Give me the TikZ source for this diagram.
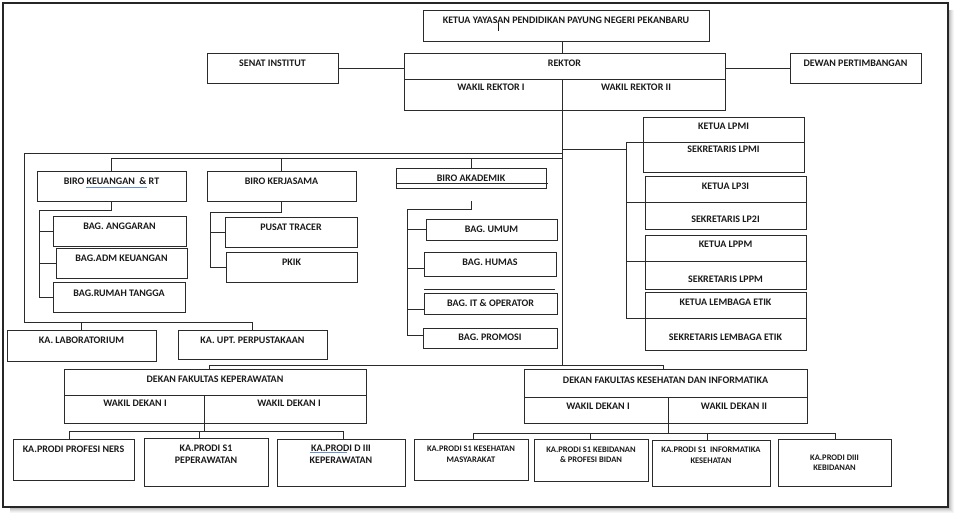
\documentclass[tikz,border=0pt]{standalone}
\usepackage{fontspec}
\setmainfont{Carlito}
\usetikzlibrary{fit,calc}
\definecolor{ln}{HTML}{2B2B2B}
\definecolor{txc}{HTML}{1A1A1A}
\definecolor{spell}{HTML}{6A8FD8}
\tikzset{
  bx/.style={draw=ln, line width=0.9pt, inner sep=0pt, fit={#1}},
  tx/.style={inner sep=0pt, font=\fontsize{10}{12}\selectfont\bfseries, text=txc, align=center},
  ts/.style={inner sep=0pt, font=\fontsize{8.5}{10.5}\selectfont\bfseries, text=txc, align=center},
  cn/.style={draw=ln, line width=0.9pt},
}
% box: [text style]{name}{x1}{y1}{x2}{y2}{text y}{text}
\newcommand\bx[8][tx]{%
  \node[bx={(#3,#4) (#5,#6)}] (#2) {};
  \node[#1] (#2-t) at ({(#3+#5)/2},#7) {#8};}
\begin{document}
\begin{tikzpicture}[x=1pt,y=-1pt]
\useasboundingbox (0,0) rectangle (957,516);
% frame with shadow
\foreach \i/\c in {6/4,5/8,4/13,3/19,2/26,1/33}
  \fill[black!\c] (10,10) rectangle ({948+\i},{507+\i});
\fill[white, draw=black!85, line width=1.2pt] (3,3) rectangle (948,507);

% top
\bx{ketua}{423}{10}{709}{41}{20}{KETUA YAYASAN PENDIDIKAN PAYUNG NEGERI PEKANBARU}
\draw[txc, line width=0.6pt] (498,23) -- (498,31);
\bx{senat}{207}{53}{338}{83}{63}{SENAT INSTITUT}
\bx{rektor}{404}{53}{725}{110}{63}{REKTOR}
\draw[cn] (404,79) -- (725,79);
\node[tx] (wr1) at (491,87) {WAKIL REKTOR I};
\node[tx] (wr2) at (636,87) {WAKIL REKTOR II};
\bx{dewan}{790}{53}{921}{83}{63}{DEWAN PERTIMBANGAN}

\coordinate (tk) at (562,79);
\coordinate (bb) at (562,365);
\draw[cn] (ketua.south -| tk) -- (rektor.north -| tk);
\draw[cn] (senat.east) -- (senat.east -| rektor.west);
\draw[cn] (rektor.east |- dewan.west) -- (dewan.west);
\draw[cn] (tk) -- (bb);

% right lembaga boxes
\bx{lpmi}{643}{117}{804}{172}{126}{KETUA LPMI}
\node[tx] (lpmi-s) at (723.5,149) {SEKRETARIS LPMI};
\bx{lp3i}{645}{176}{806}{229}{186}{KETUA LP3I}
\node[tx] (lp3i-s) at (725.5,219) {SEKRETARIS LP2I};
\bx{lppm}{645}{235}{806}{289}{244}{KETUA LPPM}
\node[tx] (lppm-s) at (725.5,279) {SEKRETARIS LPPM};
\bx{etik}{645}{292}{806}{350}{302}{KETUA LEMBAGA ETIK}
\node[tx] (etik-s) at (725.5,337) {SEKRETARIS LEMBAGA ETIK};
\coordinate (lpmi-d) at (643,142);
\coordinate (lp3i-d) at (645,202);
\coordinate (lppm-d) at (645,261);
\coordinate (etik-d) at (645,318);
\foreach \n in {lpmi,lp3i,lppm,etik}
  \draw[cn] (\n-d) -- (\n-d -| \n.east);
\coordinate (lx) at (626,149);
\coordinate (j1) at (562,149);
\draw[cn] (j1) -- (lx) -- (lx |- lpmi-d) -- (lpmi-d);
\draw[cn] (lx |- lpmi-d) -- (lx |- etik-d) -- (etik-d);
\draw[cn] (lx |- lp3i-d) -- (lp3i-d);
\draw[cn] (lx |- lppm-d) -- (lppm-d);

% left frame
\coordinate (fL) at (24,153);
\coordinate (fB) at (24,322);
\bx{lab}{7}{330}{156}{361}{340}{KA. LABORATORIUM}
\bx{upt}{178}{330}{327}{359}{340}{KA. UPT. PERPUSTAKAAN}
\draw[cn] (tk |- fL) -- (fL) -- (fB) -| (upt.north);
\draw[cn] (lab.north |- fB) -- (lab.north);

% biro
\coordinate (b1) at (113,158);
\bx{keu}{37}{171}{186}{201}{181}{BIRO KEUANGAN~~\& RT}
\draw[spell, line width=0.7pt] (86,187) -- (147,187);
\bx{kerja}{207}{171}{356}{201}{181}{BIRO KERJASAMA}
\bx{akad}{396}{168}{546}{188}{178}{BIRO AKADEMIK}
\draw[cn] (396,183.5) -- (548,183.5);
\draw[cn] (tk |- b1) -| (keu.north);
\draw[cn] (kerja.north |- b1) -- (kerja.north);
\draw[cn] (akad.north |- b1) -- (akad.north);

% keuangan children
\bx{ang}{53}{216}{186}{246}{226}{BAG. ANGGARAN}
\bx{adm}{56}{248}{187}{278}{258}{BAG.ADM KEUANGAN}
\bx{rt}{53}{282}{185}{312}{293}{BAG.RUMAH TANGGA}
\coordinate (kx) at (39,210);
\draw[cn] (keu.south) |- (kx) |- (rt.west);
\draw[cn] (ang.west -| kx) -- (ang.west);
\draw[cn] (adm.west -| kx) -- (adm.west);

% kerjasama children
\bx{tracer}{225}{217}{357}{247}{227}{PUSAT TRACER}
\bx{pkik}{226}{252}{357}{282}{262}{PKIK}
\coordinate (rx) at (210,212);
\draw[cn] (kerja.south) |- (rx) |- (pkik.west);
\draw[cn] (tracer.west -| rx) -- (tracer.west);

% akademik children
\bx{umum}{426}{219}{557}{240}{229}{BAG. UMUM}
\bx{humas}{424}{252}{556}{276}{262}{BAG. HUMAS}
\draw[cn] (424,289) -- (555,289);
\bx{itop}{424}{293}{557}{314}{303}{BAG. IT \& OPERATOR}
\bx{promosi}{423}{328}{557}{348}{337}{BAG. PROMOSI}
\coordinate (at) at (471,201);
\coordinate (ax) at (407,209);
\draw[cn] (at) |- (ax) -- (ax |- 0,335) -- (promosi.west |- 0,335);
\draw[cn] (umum.west -| ax) -- (umum.west);
\draw[cn] (ax |- 0,268) -- (humas.west |- 0,268);
\draw[cn] (ax |- 0,309) -- (itop.west |- 0,309);

% faculty keperawatan
\bx{dkep}{64}{369}{366}{423}{379}{DEKAN FAKULTAS KEPERAWATAN}
\draw[cn] (64,395) -- (366,395);
\node[tx] (wdk1) at (135,403) {WAKIL DEKAN I};
\node[tx] (wdk2) at (289,403) {WAKIL DEKAN I};
\coordinate (kv) at (204,395);
\coordinate (kb) at (204,431);
\draw[cn] (kv) -- (kb);
\bx{ners}{13}{439}{134}{480}{449}{KA.PRODI PROFESI NERS}
\bx{s1kep}{144}{438}{268}{486}{454}{KA.PRODI S1\\PEPERAWATAN}
\bx{d3kep}{277}{439}{405}{486}{454.5}{KA.PRODI D III\\KEPERAWATAN}
\draw[spell, line width=0.7pt] (310,452.5) -- (347,452.5);
\coordinate (kb1) at (69,431);
\coordinate (kb2) at (199,431);
\coordinate (kb3) at (343,431);
\draw[cn] (kb1 |- ners.north) -- (kb1) -- (kb3) -- (kb3 |- d3kep.north);
\draw[cn] (kb2) -- (kb2 |- s1kep.north);

% faculty kesehatan
\bx{dkes}{524}{369}{807}{423}{380}{DEKAN FAKULTAS KESEHATAN DAN INFORMATIKA}
\draw[cn] (524,397) -- (807,397);
\node[tx] (wds1) at (598,406) {WAKIL DEKAN I};
\node[tx] (wds2) at (734,406) {WAKIL DEKAN II};
\coordinate (sv) at (668,397);
\coordinate (sb) at (668,433);
\draw[cn] (sv) -- (sb);
\bx[ts]{skm}{414}{439}{528}{480}{454}{KA.PRODI S1 KESEHATAN\\MASYARAKAT}
\bx[ts]{keb}{534}{439}{648}{481}{454.5}{KA.PRODI S1 KEBIDANAN\\\& PROFESI BIDAN}
\bx[ts]{inf}{652}{440}{770}{486}{455}{KA.PRODI S1~~INFORMATIKA\\KESEHATAN}
\bx[ts]{diii}{778}{439}{891}{486}{462.5}{KA.PRODI DIII\\KEBIDANAN}
\coordinate (sb1) at (473,433);
\coordinate (sb2) at (590,433);
\coordinate (sb3) at (707,433);
\coordinate (sb4) at (835,433);
\draw[cn] (sb1 |- skm.north) -- (sb1) -- (sb4) -- (sb4 |- diii.north);
\draw[cn] (sb2) -- (sb2 |- keb.north);
\draw[cn] (sb3) -- (sb3 |- inf.north);

% link trunk to faculties
\coordinate (fk) at (209,365);
\coordinate (fs) at (663,365);
\draw[cn] (fk |- dkep.north) -- (fk) -- (fs) -- (fs |- dkes.north);
\end{tikzpicture}
\end{document}
